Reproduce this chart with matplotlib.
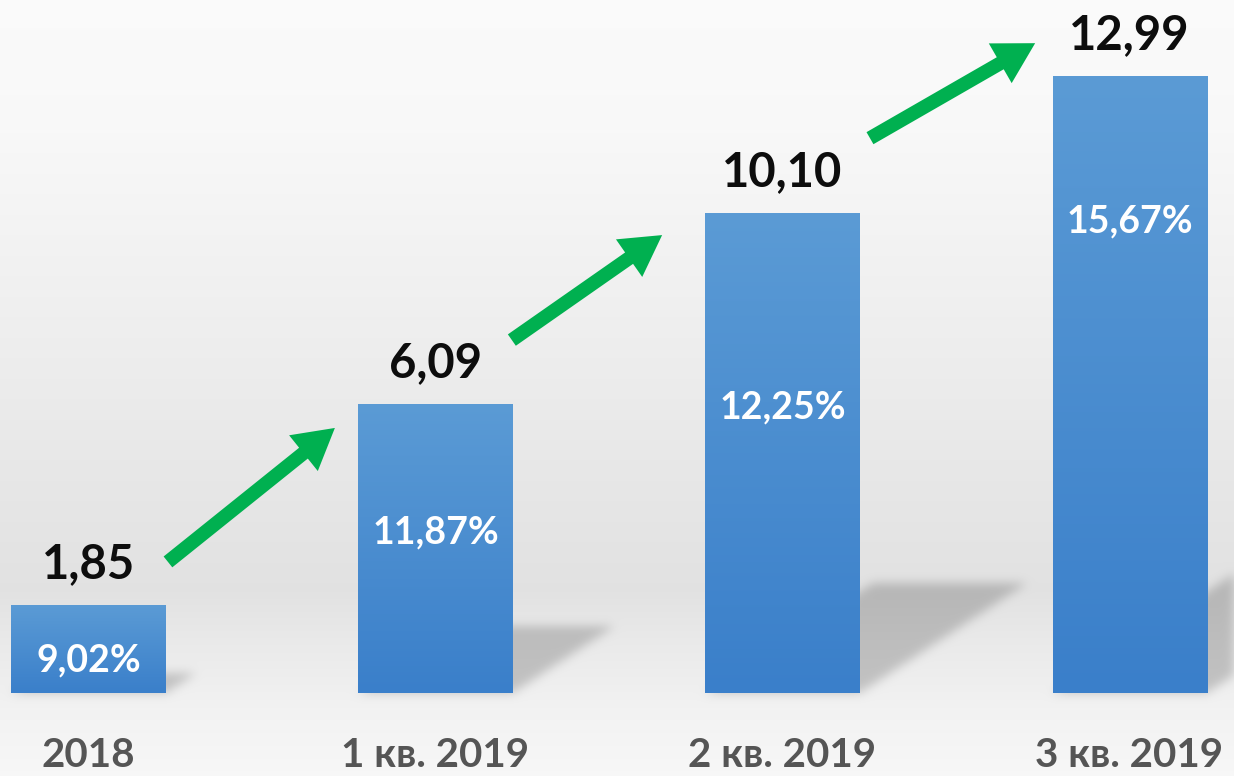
import numpy as np
import matplotlib
matplotlib.use("Agg")
import matplotlib.pyplot as plt
from matplotlib.colors import LinearSegmentedColormap
from matplotlib.path import Path

# ---- data -------------------------------------------------------------
categories = ["2018", "1 кв. 2019", "2 кв. 2019", "3 кв. 2019"]
values = [1.85, 6.09, 10.10, 12.99]
shares = [9.02, 11.87, 12.25, 15.67]

# ---- layout -----------------------------------------------------------
W, H = 1234, 776
XLIM = (-0.255, 3.301)
YLIM = (-1.747, 14.589)
BAR_W = 0.444
share_y = [0.69, 3.37, 6.02, 9.92]           # vertical position of % labels
value_pad = 0.86                              # gap between bar top and value label
cat_y = -1.31
arrows = [((0.229, 2.76), (0.710, 5.58)),
          ((1.220, 7.43), (1.653, 9.64)),
          ((2.252, 11.68), (2.728, 13.68))]

FONT = ["Lato", "DejaVu Sans"]
GREEN = "#00B050"

fig = plt.figure(figsize=(W / 100, H / 100), dpi=100)
ax = fig.add_axes([0, 0, 1, 1])
ax.set_xlim(*XLIM)
ax.set_ylim(*YLIM)
ax.set_autoscale_on(False)
ax.axis("off")

x = np.arange(len(categories))

# background: soft vertical gradient with a lighter "floor" (rows from bottom up)
rows_from_top = np.arange(H)[::-1] + 0.5
bg = np.interp(rows_from_top, [0, 120, 590, 640, 710, 776],
               [0.982, 0.975, 0.885, 0.915, 0.95, 0.97])
canvas = np.repeat(bg[:, None], W, axis=1)

# cast shadows behind the bars (pixel space, blurred, darkened onto the background)
trans = ax.transData
yy, xx = np.mgrid[0:H, 0:W]
pts = np.column_stack([xx.ravel() + 0.5, yy.ravel() + 0.5])
mask = np.zeros(H * W)
for xi, v in zip(x, values):
    (xl, y0), (xr, y1) = trans.transform([(xi - BAR_W / 2, 0), (xi + BAR_W / 2, v)])
    h = y1 - y0
    dx, dy = 0.35 * h, 0.23 * h
    poly = Path([(xl, y0), (xr, y0), (xr + dx, y0 + dy), (xl + dx, y0 + dy), (xl, y0)])
    mask = np.maximum(mask, poly.contains_points(pts).astype(float))
mask = mask.reshape(H, W)
sig = 5.0
k = np.exp(-0.5 * (np.arange(-15, 16) / sig) ** 2)
k /= k.sum()
mask = np.apply_along_axis(lambda r: np.convolve(r, k, mode="same"), 1, mask)
mask = np.apply_along_axis(lambda c: np.convolve(c, k, mode="same"), 0, mask)
mask = np.clip(mask, 0, 1)
canvas = canvas * (1 - 0.19 * mask)
ax.imshow(np.dstack([canvas] * 3), extent=(*XLIM, *YLIM), aspect="auto",
          origin="lower", zorder=0, interpolation="nearest")

# bars with a vertical blue gradient
bars = ax.bar(x, values, width=BAR_W, color="#4A8DD0", linewidth=0, zorder=2)
bar_cmap = LinearSegmentedColormap.from_list("barblue", ["#3A7FCA", "#5B9BD5"])
grad = np.linspace(0, 1, 256)[:, None]
for b in bars:
    bx, bw, bh = b.get_x(), b.get_width(), b.get_height()
    im = ax.imshow(grad, extent=(bx, bx + bw, 0, bh), aspect="auto", cmap=bar_cmap,
                   origin="lower", zorder=2.1, interpolation="bilinear")
    im.set_clip_path(b)

# labels
for xi, v, s, sy, c in zip(x, values, shares, share_y, categories):
    ax.text(xi, v + value_pad, f"{v:.2f}".replace(".", ","), ha="center", va="center",
            fontsize=34, fontweight="bold", color="#0D0D0D", family=FONT, zorder=4)
    ax.text(xi, sy, f"{s:.2f}%".replace(".", ","), ha="center", va="center",
            fontsize=27, fontweight="bold", color="white", family=FONT, zorder=4)
    ax.text(xi, cat_y, c, ha="center", va="center",
            fontsize=29, fontweight="bold", color="#555555", family=FONT, zorder=4)

# growth arrows
for tail, tip in arrows:
    ax.annotate("", xy=tip, xytext=tail, zorder=3,
                arrowprops=dict(arrowstyle="simple,head_length=1.45,head_width=1.65,tail_width=0.5",
                                color=GREEN, lw=0, mutation_scale=20, shrinkA=0, shrinkB=0))

ax.set_xlim(*XLIM)
ax.set_ylim(*YLIM)
fig.savefig("out.png", dpi=100)
